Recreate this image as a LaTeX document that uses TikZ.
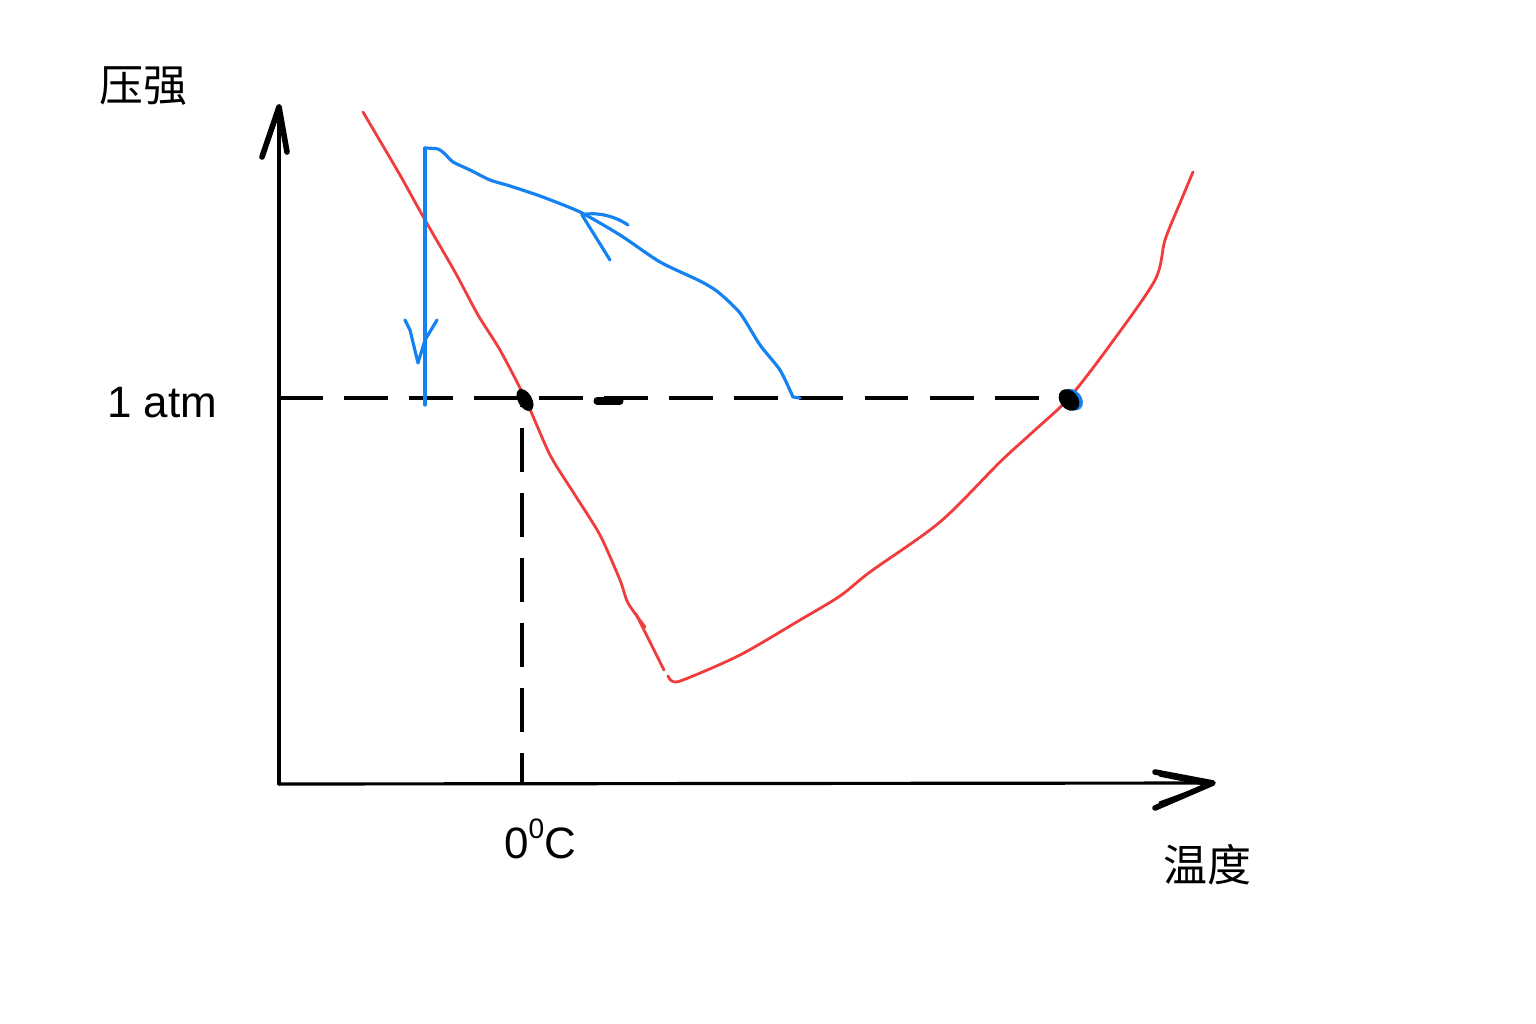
\documentclass[tikz,border=0pt]{standalone}
\usepackage{fontspec}
\setmainfont{Liberation Sans}
\newfontfamily\cjk{Noto Sans CJK SC}
\usetikzlibrary{positioning,calc}
\definecolor{myred}{RGB}{240,60,60}
\definecolor{myblue}{RGB}{20,130,240}

\begin{document}
\begin{tikzpicture}[x=0.01cm,y=-0.01cm,
    axis/.style={black,line width=0.9pt,line cap=round},
    tip/.style={black,line width=1.6pt,line cap=round,line join=round},
    guide/.style={black,line width=1.1pt,dash pattern=on 12.5pt off 6pt},
    curve/.style={myred,line width=0.8pt,line cap=round,line join=round},
    path/.style={myblue,line width=0.9pt,line cap=round,line join=round},
    lbl/.style={font=\fontsize{12.5pt}{14pt}\selectfont,inner sep=0pt}]
    \useasboundingbox (0,0) rectangle (1536,1024);
    \fill[white] (0,0) rectangle (1536,1024);
        % basics
    \coordinate (O) at (279,784);
    \coordinate (ytop) at (279,107);
    \coordinate (xend) at (1213,783);
    \coordinate (atm) at (279,398);
    \coordinate (freeze) at (525,400);
    \coordinate (boil) at (1069,400);
    \coordinate (zero) at (522,783);
    \draw[axis] (O) -- (ytop);
    \draw[axis] (O) -- (xend);
    \draw[tip] (262,157) -- (ytop) -- (287,152);
    \draw[tip] (1155,772) -- (xend) -- (1155,808);
    \draw[tip,line width=1pt] (1160,775) -- (1210,785) -- (1160,803);
    \node[lbl] (plab) at (143,86) {\cjk 压强};
    \node[lbl] (tlab) at (1207,865) {\cjk 温度};
    \node[lbl] (atmlab) at (162,403) {1 atm};
    \node[lbl] (zerolab) at (540,839) {0\raisebox{0.45em}{\fontsize{8pt}{9pt}\selectfont 0}C};

    % 1 atm and 0 C
    \draw[guide] (atm) -- (1075,398);
    \draw[guide,dash phase=4pt] (zero) -- (522,406);
    \draw[black,line width=2pt,line cap=round] (597,401) -- (620,401);

    % phase boundary
    \draw[curve] plot[smooth,tension=0.4] coordinates {(363,112) (400,175) (425,220)
        (455,272) (478,315) (500,350) (525,398) (550,455) (575,495) (600,535)
        (620,580) (628,603) (645,627)};
    \draw[curve] (636,614) -- (664,670);
    \draw[curve] plot[smooth,tension=0.5] coordinates {(668,676) (672,681) (683,680)
        (740,655) (800,620) (840,596) (870,572) (940,522) (1000,462) (1035,430)
        (1069,398) (1110,345) (1155,280) (1165,240) (1180,203) (1193,172)};

    % triple and boiling points
    \fill[black,rotate around={-60:(freeze)}] (freeze) ellipse (12 and 7);
    \fill[myblue,rotate around={-50:(boil)}] ($(boil)+(2,-3)$) ellipse (12 and 9);
    \fill[black,rotate around={-50:(boil)}] (boil) ellipse (12 and 9);

    % process
    \draw[path] (425,405) -- (425,148);
    \draw[path] plot[smooth,tension=0.4] coordinates {(425,148) (438,149) (445,154)
        (453,162) (470,170) (490,180) (510,186) (540,196) (580,212) (620,235)
        (660,262) (700,281) (718,292) (740,313) (760,345) (780,370) (793,397)}
        -- (800,398);
    \draw[path] (628,225) .. controls (612,214) and (592,212) .. (582,215) -- (610,260);
    \draw[path] (405,320) -- (410,330) -- (418,363) -- (425,340) -- (437,320);
\end{tikzpicture}
\end{document}
